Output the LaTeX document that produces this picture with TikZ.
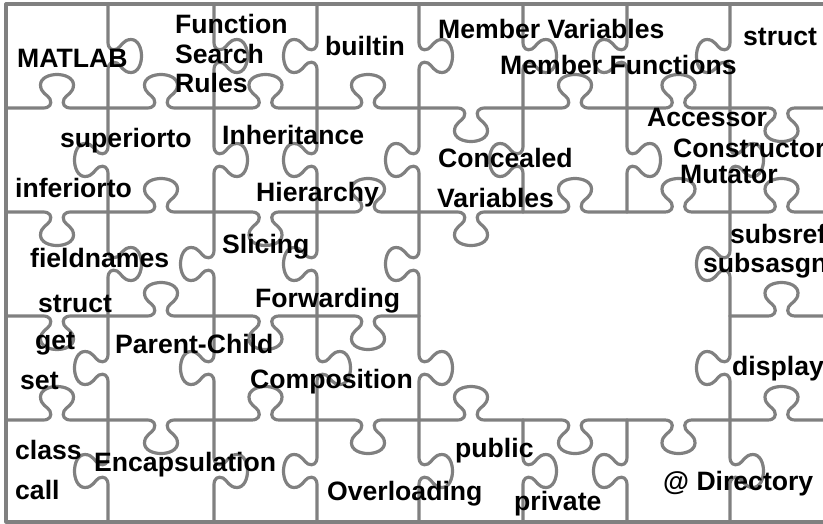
\documentclass[tikz,border=0pt]{standalone}
\usepackage{fontspec}
\setmainfont{Liberation Sans}
\definecolor{piecegray}{RGB}{128,128,128}

% One puzzle edge of the given length, drawn along the local x axis,
% with a tab in its middle on the side given by #5 (1 or -1).
\newcommand\jedge[5]{%
  \begin{scope}[shift={(#1,#2)},rotate=#3,yscale=#5]
    \pgfmathsetmacro\tabmid{(#4)/2}
    \draw[edgeline] (0,0) -- ({\tabmid-14},0)
      .. controls ({\tabmid-7},0) and ({\tabmid-5},4) .. ({\tabmid-7},9)
      .. controls ({\tabmid-9},13) and ({\tabmid-16.5},15) .. ({\tabmid-16.5},23)
      .. controls ({\tabmid-16.5},30) and ({\tabmid-8},33.5) .. (\tabmid,33.5)
      .. controls ({\tabmid+8},33.5) and ({\tabmid+16.5},30) .. ({\tabmid+16.5},23)
      .. controls ({\tabmid+16.5},15) and ({\tabmid+9},13) .. ({\tabmid+7},9)
      .. controls ({\tabmid+5},4) and ({\tabmid+7},0) .. ({\tabmid+14},0)
      -- ({#4},0);
  \end{scope}}
% horizontal edge: x0, x1, y, side (1 = tab below, -1 = tab above)
\newcommand\hedge[4]{\jedge{#1}{#3}{0}{#2-#1}{#4}}
% vertical edge: x, y0, y1, side (1 = tab to the right, -1 = tab to the left)
\newcommand\vedge[4]{%
  \pgfmathsetmacro\vside{-(#4)}%
  \jedge{#1}{#2}{-90}{#3-#2}{\vside}}

\begin{document}
\begin{tikzpicture}[x=1pt,y=-1pt,
  edgeline/.style={draw=piecegray, line width=3.2pt, line cap=round, line join=round},
  word/.style={anchor=base west, inner sep=0pt, text=black,
    font=\fontsize{26.6}{29.5}\selectfont\bfseries}]
\useasboundingbox (0,0) rectangle (823,523);
\clip (0,0) rectangle (823,523);

% outer border
\draw[edgeline] (833,4) -- (6,4) -- (6,522) -- (833,522);

% edges between rows 0 and 1
\hedge{6}{108}{108}{-1}
\hedge{108}{214}{108}{-1}
\hedge{214}{317}{108}{-1}
\hedge{317}{419}{108}{-1}
\hedge{419}{523}{108}{1}
\hedge{523}{627}{108}{-1}
\hedge{627}{730}{108}{-1}
\hedge{730}{833}{108}{1}
% edges between rows 1 and 2
\hedge{6}{108}{212}{1}
\hedge{108}{214}{212}{-1}
\hedge{214}{317}{212}{1}
\hedge{317}{419}{212}{-1}
\hedge{419}{523}{212}{1}
\hedge{523}{627}{212}{-1}
\hedge{627}{730}{212}{-1}
\hedge{730}{833}{212}{-1}
% edges between rows 2 and 3
\hedge{6}{108}{316}{1}
\hedge{108}{214}{316}{-1}
\hedge{214}{317}{316}{1}
\hedge{317}{419}{316}{1}
\hedge{730}{833}{316}{-1}
% edges between rows 3 and 4
\hedge{6}{108}{420}{-1}
\hedge{108}{214}{420}{1}
\hedge{214}{317}{420}{-1}
\hedge{317}{419}{420}{1}
\hedge{419}{523}{420}{-1}
\hedge{523}{627}{420}{1}
\hedge{627}{730}{420}{1}
\hedge{730}{833}{420}{-1}

% vertical edges, column by column
\vedge{108}{4}{108}{1}
\vedge{108}{108}{212}{-1}
\vedge{108}{212}{316}{1}
\vedge{108}{316}{420}{-1}
\vedge{108}{420}{522}{-1}

\vedge{214}{4}{108}{1}
\vedge{214}{108}{212}{1}
\vedge{214}{212}{316}{-1}
\vedge{214}{316}{420}{-1}
\vedge{214}{420}{522}{1}

\vedge{317}{4}{108}{-1}
\vedge{317}{108}{212}{-1}
\vedge{317}{212}{316}{-1}
\vedge{317}{316}{420}{1}
\vedge{317}{420}{522}{-1}

\vedge{419}{4}{108}{1}
\vedge{419}{108}{212}{-1}
\vedge{419}{212}{316}{-1}
\vedge{419}{316}{420}{1}
\vedge{419}{420}{522}{1}

\vedge{523}{4}{108}{1}
\vedge{523}{108}{212}{-1}
\vedge{523}{420}{522}{1}

\vedge{627}{4}{108}{-1}
\vedge{627}{108}{212}{1}
\vedge{627}{420}{522}{-1}

\vedge{730}{4}{108}{-1}
\vedge{730}{108}{212}{1}
\vedge{730}{212}{316}{-1}
\vedge{730}{316}{420}{-1}
\vedge{730}{420}{522}{1}

% labels
\node[word] (matlab) at (17,67) {MATLAB};
\node[word] (fsr1) at (175,33.5) {Function};
\node[word] (fsr2) at (175,63) {Search};
\node[word] (fsr3) at (175,92.5) {Rules};
\node[word] (builtin) at (325,55) {builtin};
\node[word] (membvar) at (438,38) {Member Variables};
\node[word] (membfun) at (500,74) {Member Functions};
\node[word] (structa) at (743,45) {struct};
\node[word] (superiorto) at (60,147) {superiorto};
\node[word] (inherit) at (222,144) {Inheritance};
\node[word] (concealed) at (438,167) {Concealed};
\node[word] (variables) at (437,207) {Variables};
\node[word] (accessor) at (647,126) {Accessor};
\node[word] (construct) at (673,157) {Constructor};
\node[word] (mutator) at (680,183) {Mutator};
\node[word] (inferiorto) at (15,197) {inferiorto};
\node[word] (hierarchy) at (256,201) {Hierarchy};
\node[word] (fieldnames) at (30,267) {fieldnames};
\node[word] (slicing) at (222,253) {Slicing};
\node[word] (subsref) at (730,243) {subsref};
\node[word] (subsasgn) at (703,272) {subsasgn};
\node[word] (structb) at (38,312) {struct};
\node[word] (forwarding) at (255,307) {Forwarding};
\node[word] (get) at (35,349) {get};
\node[word] (parentchild) at (115,353) {Parent-Child};
\node[word] (set) at (20,389) {set};
\node[word] (composition) at (250,388) {Composition};
\node[word] (display) at (732,375) {display};
\node[word] (class) at (15,459) {class};
\node[word] (encaps) at (94,471) {Encapsulation};
\node[word] (call) at (15,499) {call};
\node[word] (public) at (455,457) {public};
\node[word] (overloading) at (327,500) {Overloading};
\node[word] (private) at (514,510) {private};
\node[word] (directory) at (663,490) {@ Directory};
\end{tikzpicture}
\end{document}
